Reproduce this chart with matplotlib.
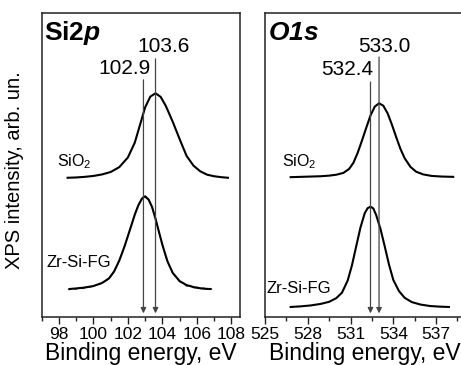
import matplotlib
matplotlib.use('Agg')
import matplotlib.pyplot as plt
from matplotlib.ticker import MultipleLocator

plt.rcParams['font.family'] = ['Liberation Sans', 'DejaVu Sans']
plt.rcParams['mathtext.fontset'] = 'custom'
plt.rcParams['mathtext.rm'] = 'Liberation Sans'
plt.rcParams['mathtext.it'] = 'Liberation Sans:italic'
plt.rcParams['mathtext.bf'] = 'Liberation Sans:bold'
plt.rcParams['mathtext.bfit'] = 'Liberation Sans:italic:bold'

# Si 2p, SiO2 reference (fit)
si_sio2_x = [98.5, 99.0, 99.5, 100.0, 100.5, 101.0, 101.5, 102.0, 102.4, 102.7, 103.0,
             103.3, 103.6, 103.9, 104.2, 104.6, 105.0, 105.4, 105.8, 106.2, 106.6,
             107.0, 107.4, 107.8]
si_sio2_y = [0.458, 0.459, 0.461, 0.464, 0.469, 0.477, 0.493, 0.525, 0.574, 0.632, 0.690,
             0.725, 0.736, 0.724, 0.694, 0.642, 0.585, 0.530, 0.498, 0.479, 0.468,
             0.463, 0.460, 0.458]

# Si 2p, Zr-Si-FG: fit and measured points
si_zr_fit_x = [98.6, 99.0, 99.5, 100.0, 100.5, 100.9, 101.2, 101.5, 101.8, 102.1, 102.4,
               102.6, 102.8, 102.9, 103.0, 103.2, 103.4, 103.6, 103.8, 104.0, 104.3,
               104.6, 105.0, 105.4, 105.9, 106.4, 106.8]
si_zr_fit_y = [0.092, 0.094, 0.097, 0.102, 0.112, 0.127, 0.150, 0.186, 0.232, 0.284, 0.337,
               0.367, 0.388, 0.394, 0.396, 0.386, 0.362, 0.323, 0.280, 0.237, 0.182,
               0.145, 0.118, 0.105, 0.097, 0.093, 0.092]
si_zr_dat_x = [98.6, 98.8, 99.0, 99.2, 99.4, 99.6, 99.8, 100.0, 100.2, 100.4, 100.6,
               100.8, 101.0, 101.2, 101.4, 101.6, 101.8, 102.0, 102.2, 102.4, 102.6,
               102.8, 103.0, 103.2, 103.4, 103.6, 103.8, 104.0, 104.2, 104.4, 104.6,
               104.8, 105.0, 105.2, 105.4, 105.6, 105.8, 106.0, 106.2, 106.4, 106.6, 106.8]
si_zr_dat_y = [0.090, 0.094, 0.091, 0.097, 0.093, 0.099, 0.098, 0.101, 0.106, 0.108, 0.115,
               0.121, 0.133, 0.149, 0.172, 0.200, 0.230, 0.268, 0.302, 0.339, 0.366,
               0.390, 0.399, 0.389, 0.360, 0.326, 0.278, 0.240, 0.196, 0.170, 0.143,
               0.131, 0.116, 0.112, 0.101, 0.104, 0.096, 0.099, 0.093, 0.096, 0.091, 0.093]

# O 1s
o_sio2_x = [526.8, 527.5, 528.2, 528.9, 529.5, 530.0, 530.5, 530.9, 531.2, 531.5, 531.8,
            532.1, 532.4, 532.7, 533.0, 533.3, 533.6, 533.9, 534.2, 534.5, 534.8,
            535.2, 535.6, 536.1, 536.7, 537.4, 538.2]
o_sio2_y = [0.460, 0.461, 0.462, 0.463, 0.465, 0.468, 0.474, 0.487, 0.507, 0.540, 0.580,
            0.622, 0.663, 0.692, 0.703, 0.695, 0.670, 0.633, 0.592, 0.553, 0.522,
            0.494, 0.478, 0.469, 0.464, 0.462, 0.461]
o_zr_x = [526.8, 527.5, 528.2, 528.9, 529.5, 530.0, 530.4, 530.8, 531.1, 531.4, 531.7,
          532.0, 532.2, 532.4, 532.6, 532.8, 533.1, 533.4, 533.7, 534.0, 534.4,
          534.8, 535.3, 535.9, 536.6, 537.3, 537.9]
o_zr_y = [0.033, 0.035, 0.038, 0.043, 0.050, 0.062, 0.080, 0.120, 0.170, 0.233, 0.295,
          0.342, 0.358, 0.363, 0.357, 0.335, 0.290, 0.232, 0.172, 0.122, 0.085,
          0.063, 0.049, 0.041, 0.036, 0.034, 0.033]

si_peaks = [102.9, 103.6]
o_peaks = [532.4, 533.0]

fig = plt.figure(figsize=(4.61, 3.65), dpi=100)
ax1 = fig.add_axes([0.0905, 0.1315, 0.4301, 0.8329])
ax2 = fig.add_axes([0.5748, 0.1315, 0.433, 0.8329])

for ax in (ax1, ax2):
    ax.set_ylim(0, 1)
    ax.set_yticks([])
    for s in ax.spines.values():
        s.set_linewidth(1.1)
        s.set_color('#222222')
    ax.tick_params(axis='x', direction='out', length=5, width=1, labelsize=12.5, pad=2,
                   color='#222222')
    ax.tick_params(axis='x', which='minor', direction='out', length=3, width=1,
                   color='#222222')
    ax.set_xlabel('Binding energy, eV', fontsize=16.5, labelpad=0)

# left panel
ax1.plot(si_sio2_x, si_sio2_y, color='black', lw=1.5)
ax1.plot(si_zr_dat_x, si_zr_dat_y, color='#555555', lw=0.8)
ax1.plot(si_zr_fit_x, si_zr_fit_y, color='black', lw=1.5)
ax1.set_xlim(97, 108.5)
ax1.xaxis.set_major_locator(MultipleLocator(2))
ax1.xaxis.set_minor_locator(MultipleLocator(1))

# right panel
ax2.plot(o_sio2_x, o_sio2_y, color='black', lw=1.5)
ax2.plot(o_zr_x, o_zr_y, color='black', lw=1.5)
ax2.set_xlim(525, 539)
ax2.xaxis.set_major_locator(MultipleLocator(3))
ax2.xaxis.set_minor_locator(MultipleLocator(1.5))

def arrows(ax, peaks, tops):
    for xp, yt in zip(peaks, tops):
        ax.annotate('', xy=(xp, 0.012), xytext=(xp, yt),
                    arrowprops=dict(arrowstyle='-|>', color='#444444', lw=0.9,
                                    mutation_scale=8, shrinkA=0, shrinkB=0))

arrows(ax1, si_peaks, [0.78, 0.849])
arrows(ax2, o_peaks, [0.773, 0.855])

ax1.text(104.07, 0.891, '103.6', fontsize=15, ha='center', va='center')
ax1.text(101.8, 0.8175, '102.9', fontsize=15, ha='center', va='center')
ax2.text(533.4, 0.891, '533.0', fontsize=15, ha='center', va='center')
ax2.text(530.8, 0.8125, '532.4', fontsize=15, ha='center', va='center')

ax1.text(0.012, 0.934, r'$\mathbf{Si2}\mathbfit{p}$', transform=ax1.transAxes,
         fontsize=19, ha='left', va='center')
ax2.text(0.015, 0.934, r'$\mathbfit{O1s}$', transform=ax2.transAxes,
         fontsize=19, ha='left', va='center')

ax1.text(97.9, 0.51, r'SiO$_2$', fontsize=11.5, ha='left', va='center')
ax1.text(97.3, 0.18, 'Zr-Si-FG', fontsize=12, ha='left', va='center')
ax2.text(526.2, 0.51, r'SiO$_2$', fontsize=11.5, ha='left', va='center')
ax2.text(525.1, 0.095, 'Zr-Si-FG', fontsize=12, ha='left', va='center')

fig.text(0.032, 0.535, 'XPS intensity, arb. un.', rotation=90, fontsize=14.5,
         ha='center', va='center')

fig.savefig('out.png', dpi=100)
